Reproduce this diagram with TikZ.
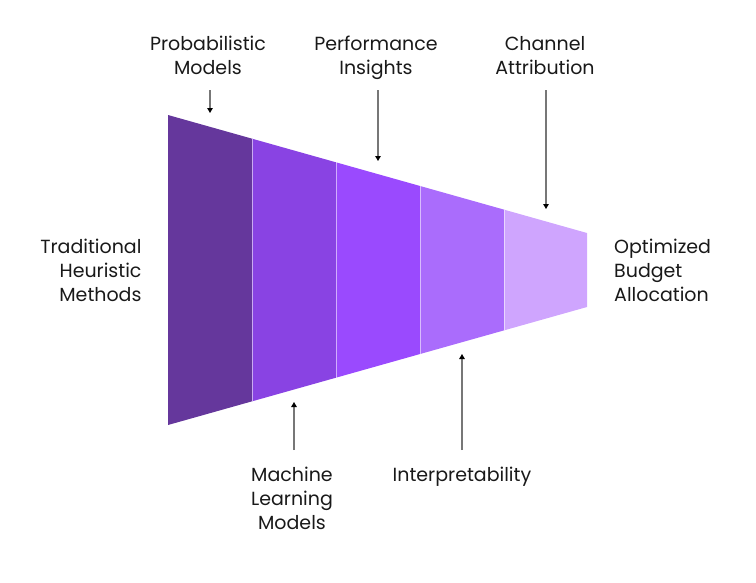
\documentclass[tikz,border=0pt]{standalone}
\usepackage{fontspec}
\setmainfont{Poppins}
\usetikzlibrary{arrows.meta}
\definecolor{segA}{HTML}{65379C}
\definecolor{segB}{HTML}{8943E3}
\definecolor{segC}{HTML}{9A4AFE}
\definecolor{segD}{HTML}{AA6CFC}
\definecolor{segE}{HTML}{CFA5FE}
\definecolor{arrgray}{HTML}{777777}
\tikzset{
  lbl/.style={inner sep=0pt, font=\fontsize{19}{24}\selectfont, text=black!90},
  pointer/.style={draw=arrgray, line width=1.1pt, -{Triangle[length=5pt,width=5.5pt,color=black]}},
  sep/.style={draw=white, draw opacity=0.55, line width=1pt}
}
\begin{document}
\begin{tikzpicture}[x=1pt,y=-1pt]
\useasboundingbox (0,0) rectangle (756,582);
% funnel corner coordinates
\coordinate (t0) at (168,115);
\coordinate (t1) at (252,138.66);
\coordinate (t2) at (336,162.31);
\coordinate (t3) at (420,185.97);
\coordinate (t4) at (504,209.62);
\coordinate (t5) at (587,233);
\coordinate (b0) at (168,425);
\coordinate (b1) at (252,401.34);
\coordinate (b2) at (336,377.69);
\coordinate (b3) at (420,354.03);
\coordinate (b4) at (504,330.38);
\coordinate (b5) at (587,307);
\fill[segA] (t0) -- (t1) -- (b1) -- (b0) -- cycle;
\fill[segB] (t1) -- (t2) -- (b2) -- (b1) -- cycle;
\fill[segC] (t2) -- (t3) -- (b3) -- (b2) -- cycle;
\fill[segD] (t3) -- (t4) -- (b4) -- (b3) -- cycle;
\fill[segE] (t4) -- (t5) -- (b5) -- (b4) -- cycle;
\draw[sep] (t1) -- (b1);
\draw[sep] (t2) -- (b2);
\draw[sep] (t3) -- (b3);
\draw[sep] (t4) -- (b4);
% labels (anchor base = baseline of last line)
\node[lbl, align=center, anchor=base] (prob) at (208,74) {Probabilistic\\Models};
\node[lbl, align=center, anchor=base] (perf) at (376,74) {Performance\\Insights};
\node[lbl, align=center, anchor=base] (chan) at (545,74) {Channel\\Attribution};
\node[lbl, align=center, anchor=base] (mach) at (292,529.7) {Machine\\Learning\\Models};
\node[lbl, align=center, anchor=base] (interp) at (462,481.7) {Interpretability};
\node[lbl, align=right, anchor=base east] (trad) at (141.7,301) {Traditional\\Heuristic\\Methods};
\node[lbl, align=left, anchor=base west] (opt) at (614,301) {Optimized\\Budget\\Allocation};
% arrow coordinates
\coordinate (probS) at (210,90);  \coordinate (probE) at (210,113);
\coordinate (perfS) at (378,90);  \coordinate (perfE) at (378,161);
\coordinate (chanS) at (546,90);  \coordinate (chanE) at (546,209);
\coordinate (machS) at (294,450); \coordinate (machE) at (294,402);
\coordinate (intS) at (462,450);  \coordinate (intE) at (462,354);
\draw[pointer] (probS) -- (probE);
\draw[pointer] (perfS) -- (perfE);
\draw[pointer] (chanS) -- (chanE);
\draw[pointer] (machS) -- (machE);
\draw[pointer] (intS) -- (intE);
\end{tikzpicture}
\end{document}
